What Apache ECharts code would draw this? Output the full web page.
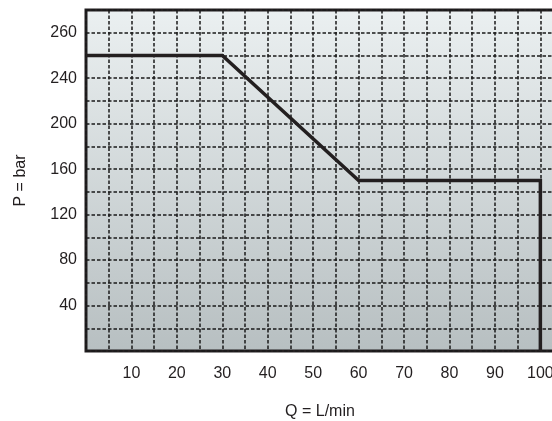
<!DOCTYPE html>
<html>
<head>
<meta charset="utf-8">
<script src="https://cdn.jsdelivr.net/npm/echarts@6/dist/echarts.min.js"></script>
<style>
html,body{margin:0;padding:0;background:#fff;}
#chart{width:552px;height:421px;}
</style>
</head>
<body>
<div id="chart"></div>
<script>
// Flow Q (L/min) and pressure P (bar) of the characteristic curve
const qValues = [0, 30, 60, 100, 100];
const pValues = [260, 260, 150, 150, 0];
// Tick labels as printed on the reference
const xTickValues = [10, 20, 30, 40, 50, 60, 70, 80, 90, 100];
const xTickLabels = ['10', '20', '30', '40', '50', '60', '70', '80', '90', '100'];
const yTickValues = [40, 80, 120, 160, 200, 240, 280];
const yTickLabels = ['40', '80', '120', '160', '200', '240', '260'];

const FONT = '"Liberation Sans", Arial, Helvetica, sans-serif';
const chart = echarts.init(document.getElementById('chart'), null, {renderer: 'canvas'});

function lookup(vals, labels) {
  return function (v) {
    for (let i = 0; i < vals.length; i++) {
      if (Math.abs(vals[i] - v) < 1e-6) return labels[i];
    }
    return '';
  };
}

const dashed = {show: true, lineStyle: {color: '#1a1a1a', width: 1.5, type: [3.5, 2]}};

chart.setOption({
  animation: false,
  backgroundColor: '#ffffff',
  grid: {
    left: 86, right: -2, top: 10, bottom: 70,
    containLabel: false,
    outerBoundsMode: 'none',
    show: true,
    borderColor: '#231f20',
    borderWidth: 3,
    backgroundColor: new echarts.graphic.LinearGradient(0, 0, 0, 1, [
      {offset: 0, color: '#ebf0f1'},
      {offset: 1, color: '#b7bfc1'}
    ])
  },
  xAxis: {
    type: 'value',
    min: 0, max: 103, interval: 5,
    name: 'Q = L/min',
    nameLocation: 'middle',
    nameGap: 53,
    nameTextStyle: {fontFamily: FONT, fontSize: 16, color: '#231f20'},
    axisLine: {show: false},
    axisTick: {show: false},
    axisLabel: {
      margin: 15,
      fontFamily: FONT, fontSize: 16, color: '#231f20',
      formatter: lookup(xTickValues, xTickLabels),
      showMinLabel: true, showMaxLabel: true,
      hideOverlap: false
    },
    splitLine: dashed
  },
  yAxis: {
    type: 'value',
    min: 0, max: 300, interval: 20,
    name: 'P = bar',
    nameLocation: 'middle',
    nameGap: 57,
    nameTextStyle: {fontFamily: FONT, fontSize: 16, color: '#231f20'},
    axisLine: {show: false},
    axisTick: {show: false},
    axisLabel: {
      margin: 9,
      fontFamily: FONT, fontSize: 16, color: '#231f20',
      formatter: lookup(yTickValues, yTickLabels)
    },
    splitLine: dashed
  },
  series: [{
    type: 'line',
    data: qValues.map((q, i) => [q, pValues[i]]),
    symbol: 'none',
    clip: false,
    lineStyle: {color: '#231f20', width: 3.5, join: 'miter'}
  }]
});
</script>
</body>
</html>
